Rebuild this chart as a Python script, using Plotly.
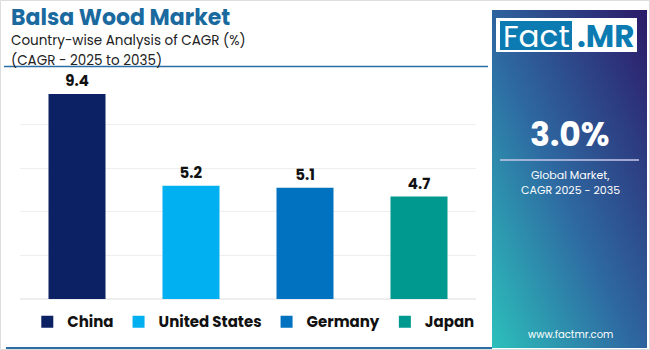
import base64
import plotly.graph_objects as go

countries = ["China", "United States", "Germany", "Japan"]
cagr = [9.4, 5.2, 5.1, 4.7]
colors = ["#0b2163", "#00b0f0", "#0072bf", "#00998f"]
title_text = "Balsa Wood Market"
subtitle_lines = ["Country-wise Analysis of CAGR (%)", "(CAGR - 2025 to 2035)"]
global_cagr = "3.0%"
global_label = ["Global Market,", "CAGR 2025 - 2035"]
website = "www.factmr.com"

FONT = "Poppins, Inter, sans-serif"

fig = go.Figure()
for c, v, col in zip(countries, cagr, colors):
    fig.add_trace(go.Bar(
        x=[c], y=[v], name=c, marker=dict(color=col, line=dict(width=0)),
        text=[f"{v:.1f}"], textposition="outside", cliponaxis=False,
        textfont=dict(family=FONT, size=15, color="#111111", weight="bold"),
        width=0.5,
    ))

W, H = 650, 350
L, R, T, B = 20, 174, 81, 51
PW, PH = W - L - R, H - T - B

svg = """<svg xmlns='http://www.w3.org/2000/svg' width='155' height='338' viewBox='0 0 155 338' preserveAspectRatio='none'>
<defs><linearGradient id='g' x1='0' y1='1' x2='1' y2='0'>
<stop offset='0' stop-color='#2cc0bb'/>
<stop offset='0.45' stop-color='#2e6aa2'/>
<stop offset='1' stop-color='#2c1a68'/>
</linearGradient></defs>
<rect width='155' height='338' fill='url(#g)'/></svg>"""
uri = "data:image/svg+xml;base64," + base64.b64encode(svg.encode()).decode()

def px(xp):
    return (xp - L) / PW

def py(yp):
    return (H - B - yp) / PH

fig.update_layout(
    width=W, height=H,
    margin=dict(l=L, r=R, t=T, b=B),
    paper_bgcolor="white", plot_bgcolor="white",
    bargap=0.5,
    showlegend=True,
    legend=dict(orientation="h", x=0.016, xanchor="left", y=-0.105, yanchor="middle",
                font=dict(family=FONT, size=15, color="#111111", weight="bold"),
                bgcolor="rgba(0,0,0,0)", itemclick=False),
    xaxis=dict(showticklabels=False, showgrid=False, zeroline=False, showline=False, ticks=""),
    yaxis=dict(range=[0, 10], dtick=2, showticklabels=False, showgrid=True,
               gridcolor="#eeeeee", gridwidth=1, zeroline=True, zerolinecolor="#eeeeee", ticks=""),
    images=[dict(source=uri, xref="paper", yref="paper", x=px(492), y=py(10),
                 sizex=px(647) - px(492), sizey=py(10) - py(348), sizing="stretch",
                 xanchor="left", yanchor="top", layer="below")],
)

shapes = [
    dict(type="rect", xref="paper", yref="paper", x0=px(0.5), x1=px(649.5), y0=py(349.5), y1=py(0.5),
         line=dict(color="#dddddd", width=1), fillcolor="rgba(0,0,0,0)", layer="below"),
    dict(type="line", xref="paper", yref="paper", x0=px(4), x1=px(488), y0=py(66.5), y1=py(66.5),
         line=dict(color="#2b6ea6", width=1.5)),
    dict(type="line", xref="paper", yref="paper", x0=px(6), x1=px(492), y0=py(348), y1=py(348),
         line=dict(color="#2b6ea6", width=2)),
    dict(type="rect", xref="paper", yref="paper", x0=px(496), x1=px(637), y0=py(52), y1=py(18),
         fillcolor="white", line=dict(width=0)),
    dict(type="rect", xref="paper", yref="paper", x0=px(500), x1=px(572), y0=py(50), y1=py(21),
         fillcolor="#0b7bb2", line=dict(width=0)),
    dict(type="line", xref="paper", yref="paper", x0=px(500), x1=px(639), y0=py(160), y1=py(160),
         line=dict(color="rgba(200,200,230,0.75)", width=2)),
]
for s in shapes:
    fig.add_shape(**s)

def ann(text, x, y, size, color, bold=False, xanchor="left", yanchor="middle", family=FONT, align="center"):
    fig.add_annotation(text=text, xref="paper", yref="paper", x=px(x), y=py(y),
                       xanchor=xanchor, yanchor=yanchor, showarrow=False, borderpad=0,
                       align=align,
                       font=dict(family=family, size=size, color=color,
                                 weight="bold" if bold else "normal"))

header = (f"<span style='font-size:22px;color:#1a6aa0'><b>{title_text}</b></span><br>"
          f"<span style='font-size:13.5px'>{subtitle_lines[0]}</span><br>"
          f"<span style='font-size:13.5px'>{subtitle_lines[1]}</span>")
ann(header, 10, 35.5, 15.5, "#222222", align="left")
ann("Fact", 536, 35.5, 31, "white", xanchor="center")
ann(".MR", 605, 35.5, 31, "#0b7bb2", bold=True, xanchor="center")
ann(global_cagr, 570, 134, 33, "white", bold=True, xanchor="center")
ann(global_label[0], 570, 175, 11, "white", xanchor="center")
ann(global_label[1], 570, 190, 11, "white", xanchor="center")
ann(website, 570, 334, 10, "white", xanchor="center")

fig.write_html("out.html")
